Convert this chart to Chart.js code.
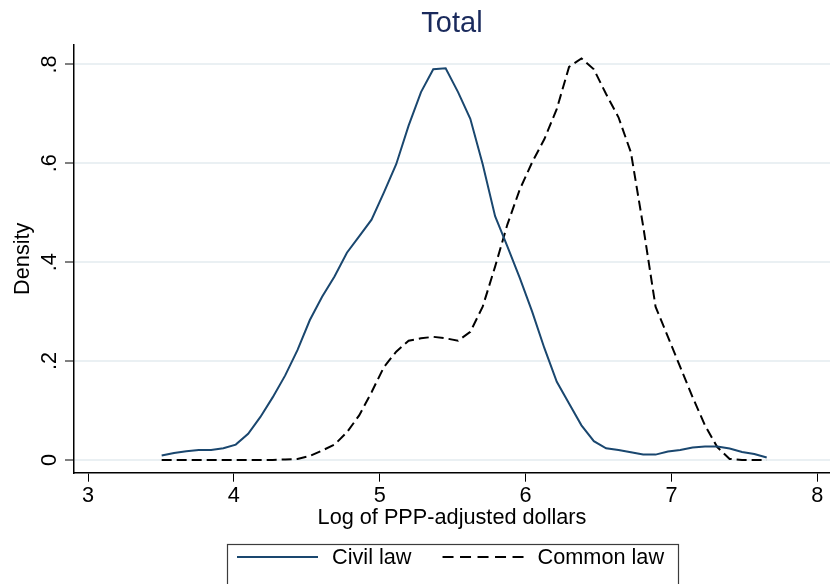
<!DOCTYPE html>
<html><head><meta charset="utf-8">
<script src="https://cdn.jsdelivr.net/npm/chart.js@4.4.1/dist/chart.umd.min.js"></script>
<style>html,body{margin:0;padding:0;background:#fff;} canvas{display:block;}</style>
</head><body>
<canvas id="c" width="830" height="584"></canvas>
<script>
const chartTitle = 'Total';
const xAxisTitle = 'Log of PPP-adjusted dollars';
const yAxisTitle = 'Density';
const seriesNames = ['Civil law', 'Common law'];

const xGrid = [3.505, 3.590, 3.674, 3.759, 3.844, 3.928, 4.013, 4.098, 4.182, 4.267,
               4.352, 4.436, 4.521, 4.605, 4.690, 4.775, 4.859, 4.944, 5.029, 5.113,
               5.198, 5.283, 5.367, 5.452, 5.537, 5.621, 5.706, 5.791, 5.875, 5.960,
               6.045, 6.129, 6.214, 6.298, 6.383, 6.468, 6.552, 6.637, 6.722, 6.806,
               6.891, 6.976, 7.060, 7.145, 7.230, 7.314, 7.399, 7.484, 7.568, 7.653];

const civilLaw = [0.009, 0.014, 0.0175, 0.020, 0.020, 0.0236, 0.031, 0.053, 0.087, 0.127,
                  0.171, 0.222, 0.283, 0.330, 0.371, 0.419, 0.452, 0.486, 0.541, 0.598,
                  0.676, 0.744, 0.790, 0.792, 0.744, 0.690, 0.598, 0.493, 0.432, 0.368,
                  0.300, 0.226, 0.158, 0.114, 0.070, 0.038, 0.0236, 0.020, 0.0155, 0.0108,
                  0.0108, 0.0169, 0.020, 0.025, 0.027, 0.027, 0.023, 0.016, 0.012, 0.005];

const commonLaw = [0, 0, 0, 0, 0, 0, 0, 0, 0, 0,
                   0.001, 0.002, 0.008, 0.019, 0.031, 0.056, 0.090, 0.137, 0.188, 0.219,
                   0.241, 0.246, 0.249, 0.246, 0.241, 0.259, 0.310, 0.391, 0.476, 0.547,
                   0.602, 0.649, 0.710, 0.795, 0.812, 0.790, 0.740, 0.693, 0.622, 0.473,
                   0.310, 0.249, 0.188, 0.127, 0.070, 0.026, 0.002, 0, 0, 0];

const xTicks = [3, 4, 5, 6, 7, 8];
const yTicks = [0, 0.2, 0.4, 0.6, 0.8];
const yTickLabels = ['0', '.2', '.4', '.6', '.8'];

const FONT = '"Liberation Sans", Arial, sans-serif';

const legendBox = {
  id: 'legendBox',
  afterDraw(chart) {
    const ctx = chart.ctx;
    ctx.save();
    const left = 227.5, top = 544.5, right = 678.5, bottom = 600;
    ctx.fillStyle = '#fff';
    ctx.fillRect(left, top, right - left, bottom - top);
    ctx.strokeStyle = '#3c3c3c';
    ctx.lineWidth = 1.2;
    ctx.strokeRect(left, top, right - left, bottom - top);
    ctx.font = '21.7px ' + FONT;
    ctx.textBaseline = 'middle';
    ctx.textAlign = 'left';
    const y = 557;
    let x = 237;
    const sampleLen = 81;
    chart.data.datasets.forEach((ds) => {
      ctx.beginPath();
      ctx.setLineDash(ds.legendDash || []);
      ctx.strokeStyle = ds.borderColor;
      ctx.lineWidth = ds.borderWidth;
      ctx.moveTo(x, y);
      ctx.lineTo(x + sampleLen, y);
      ctx.stroke();
      ctx.setLineDash([]);
      x += sampleLen + 14;
      ctx.fillStyle = '#000';
      ctx.fillText(ds.label, x, y + 1);
      x += ctx.measureText(ds.label).width + 31;
    });
    ctx.restore();
  }
};

new Chart(document.getElementById('c'), {
  type: 'line',
  data: {
    datasets: [
      {
        label: seriesNames[0],
        data: xGrid.map((x, i) => ({x: x, y: civilLaw[i]})),
        borderColor: '#1a476f',
        borderWidth: 2,
        pointRadius: 0,
        tension: 0,
        fill: false
      },
      {
        label: seriesNames[1],
        data: xGrid.map((x, i) => ({x: x, y: commonLaw[i]})),
        borderColor: '#000000',
        borderWidth: 2,
        borderDash: [10, 5],
        legendDash: [11, 6.5],
        pointRadius: 0,
        tension: 0,
        fill: false
      }
    ]
  },
  options: {
    responsive: false,
    animation: false,
    devicePixelRatio: 1,
    layout: {padding: 0},
    plugins: {
      legend: {display: false},
      tooltip: {enabled: false},
      title: {
        display: true,
        text: chartTitle,
        color: '#1a2a5c',
        font: {family: FONT, size: 29, weight: 'normal'},
        fullSize: false,
        padding: {top: 7, bottom: 3}
      }
    },
    scales: {
      x: {
        type: 'linear',
        min: 2.904,
        max: 8.087,
        afterBuildTicks: (s) => { s.ticks = xTicks.map(v => ({value: v})); },
        afterFit: (s) => { s.height = 111.3; },
        ticks: {
          color: '#000',
          font: {family: FONT, size: 21.7},
          padding: 1,
          maxRotation: 0,
          autoSkip: false,
          callback: (v) => String(v)
        },
        grid: {
          drawOnChartArea: false,
          drawTicks: true,
          tickLength: 9,
          tickColor: '#000',
          tickWidth: 1
        },
        border: {display: true, color: '#000', width: 1.5},
        title: {
          display: true,
          text: xAxisTitle,
          color: '#000',
          font: {family: FONT, size: 21.7},
          padding: {top: 0, bottom: 52.5}
        }
      },
      y: {
        type: 'linear',
        min: -0.0258,
        max: 0.8396,
        afterBuildTicks: (s) => { s.ticks = yTicks.map(v => ({value: v})); },
        afterFit: (s) => { s.width = 74; },
        ticks: {
          color: '#000',
          font: {family: FONT, size: 21.7},
          minRotation: 90,
          maxRotation: 90,
          crossAlign: 'center',
          padding: 6,
          autoSkip: false,
          callback: (v) => yTickLabels[yTicks.indexOf(v)]
        },
        grid: {
          color: '#eaf0f3',
          lineWidth: 2,
          drawTicks: true,
          tickLength: 9,
          tickColor: '#000',
          tickWidth: 1
        },
        border: {display: true, color: '#000', width: 1.5},
        title: {
          display: true,
          text: yAxisTitle,
          color: '#000',
          font: {family: FONT, size: 21.7},
          padding: {top: 10, bottom: 0}
        }
      }
    }
  },
  plugins: [legendBox]
});
</script>
</body></html>
